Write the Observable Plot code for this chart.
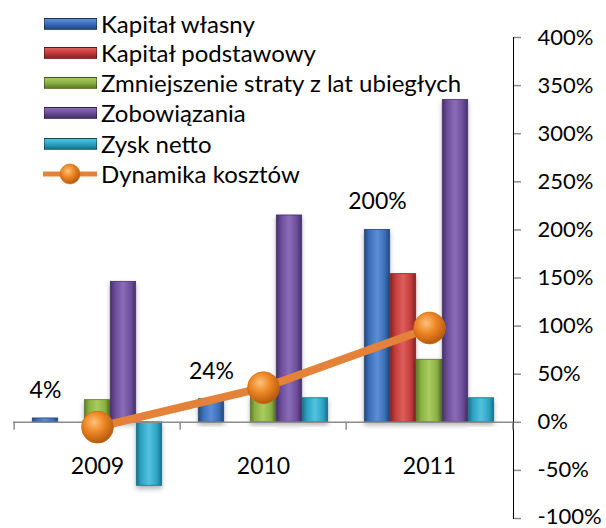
<!DOCTYPE html>
<html>
<head>
<meta charset="utf-8">
<script src="https://cdn.jsdelivr.net/npm/d3@7"></script>
<script src="https://cdn.jsdelivr.net/npm/@observablehq/plot@0.6"></script>
<style>
  html, body { margin: 0; padding: 0; background: #fff; }
  #wrap { position: relative; width: 606px; height: 528px; overflow: hidden; font-family: Lato, "Open Sans", sans-serif; }
  #legend { position: absolute; left: 0; top: 0; font-size: 24px; color: #000; }
  .row { position: absolute; left: 0; height: 30px; white-space: nowrap; }
  .sw { position: absolute; left: 44px; width: 53px; height: 12px; box-sizing: border-box; border: 1px solid rgba(0,0,0,0.35); }
  .lab { position: absolute; left: 101px; top: 0; line-height: 30px; }
</style>
</head>
<body>
<div id="wrap"><div id="chart"></div><div id="legend"></div></div>
<script>
const years = ["2009", "2010", "2011"];
const seriesNames = ["Kapitał własny", "Kapitał podstawowy", "Zmniejszenie straty z lat ubiegłych", "Zobowiązania", "Zysk netto"];
const kapitalWlasny = [4, 24, 200];
const kapitalPodstawowy = [null, null, 154];
const zmniejszenieStraty = [23, 27, 65];
const zobowiazania = [146, 215, 335];
const zyskNetto = [-66, 25, 25];
const lineName = "Dynamika kosztów";
const dynamikaKosztow = [-5, 36, 98];
const yTicks = [-100, -50, 0, 50, 100, 150, 200, 250, 300, 350, 400];

const seriesValues = [kapitalWlasny, kapitalPodstawowy, zmniejszenieStraty, zobowiazania, zyskNetto];
const colors = [
  {id: "g0", base: "#3A6DB5", light: "#5B8FD6", dark: "#23487E"},
  {id: "g1", base: "#C23B3B", light: "#DE5E5C", dark: "#842222"},
  {id: "g2", base: "#8BB043", light: "#A9CC5E", dark: "#5D7B26"},
  {id: "g3", base: "#6A4C98", light: "#8A6CB8", dark: "#45306A"},
  {id: "g4", base: "#2BA3C2", light: "#52C3DF", dark: "#187086"}
];
const lineColor = "#E4823A";

const rows = [];
seriesValues.forEach((vals, i) => vals.forEach((v, j) => {
  if (v !== null) rows.push({series: seriesNames[i], si: i, year: years[j], value: v});
}));
const dyn = years.map((y, j) => ({year: y, value: dynamikaKosztow[j]}));
const kwLabels = years.map((y, j) => ({year: y, value: kapitalWlasny[j]}));

const W = 606, H = 528, mL = 13, mR = 93, mT = 37, mB = 10;
const bandW = (W - mL - mR) / years.length;
const barW = 26;
const pad = (bandW - barW * seriesNames.length) / 2;

function defs() {
  const d = d3.create("svg:defs");
  for (const c of colors) {
    const g = d.append("linearGradient").attr("id", c.id).attr("x1", 0).attr("x2", 1).attr("y1", 0).attr("y2", 0);
    g.append("stop").attr("offset", "0%").attr("stop-color", c.dark);
    g.append("stop").attr("offset", "18%").attr("stop-color", c.base);
    g.append("stop").attr("offset", "50%").attr("stop-color", c.light);
    g.append("stop").attr("offset", "82%").attr("stop-color", c.base);
    g.append("stop").attr("offset", "100%").attr("stop-color", c.dark);
  }
  const r = d.append("radialGradient").attr("id", "ball").attr("cx", "40%").attr("cy", "35%").attr("r", "65%");
  r.append("stop").attr("offset", "0%").attr("stop-color", "#FCC27E");
  r.append("stop").attr("offset", "45%").attr("stop-color", "#F08A28");
  r.append("stop").attr("offset", "100%").attr("stop-color", "#B8590C");
  const f = d.append("filter").attr("id", "shadow").attr("x", "-30%").attr("y", "-10%").attr("width", "160%").attr("height", "130%");
  f.append("feDropShadow").attr("dx", 0).attr("dy", 3).attr("stdDeviation", 2.5).attr("flood-color", "#000").attr("flood-opacity", 0.3);
  return d.node();
}

const barMarks = seriesNames.map((name, i) =>
  Plot.barY(rows.filter(d => d.si === i), {
    x: "year", y: "value",
    fill: `url(#${colors[i].id})`,
    stroke: colors[i].dark, strokeWidth: 0.8,
    insetLeft: pad + barW * i,
    insetRight: bandW - pad - barW * (i + 1)
  })
);

const chart = Plot.plot({
  width: W, height: H,
  marginLeft: mL, marginRight: mR, marginTop: mT, marginBottom: mB,
  style: {fontFamily: "Lato, 'Open Sans', sans-serif", fontSize: "22px", color: "#000", background: "#fff"},
  x: {domain: years, padding: 0, axis: null},
  y: {domain: [-100, 400], ticks: yTicks, tickFormat: d => d + "%", axis: "right", line: true, tickSize: 7, tickPadding: 17, label: null},
  marks: [
    defs,
    ...barMarks,
    Plot.ruleY([0], {stroke: "#8C8C8C", strokeWidth: 1.5}),
    Plot.ruleX(years, {x: d => d, y1: 0, y2: 0, insetBottom: -8, dx: -bandW / 2, stroke: "#8C8C8C", strokeWidth: 1.5}),
    Plot.ruleX(years.slice(-1), {x: d => d, y1: 0, y2: 0, insetBottom: -8, dx: bandW / 2, stroke: "#8C8C8C", strokeWidth: 1.5}),
    Plot.text(years, {x: d => d, y: () => 0, text: d => d, dy: 44, fontSize: 23}),
    Plot.text(kwLabels, {x: "year", y: "value", text: d => d.value + "%", dy: -28, dx: pad + barW / 2 - bandW / 2, fontSize: 23}),
    Plot.line(dyn, {x: "year", y: "value", stroke: lineColor, strokeWidth: 8}),
    Plot.dot(dyn, {x: "year", y: "value", r: 16, fill: "url(#ball)", stroke: "#C7680F", strokeWidth: 0.6})
  ]
});
chart.querySelectorAll("[aria-label='bar'] rect").forEach(r => r.setAttribute("filter", "url(#shadow)"));
chart.querySelectorAll("[aria-label='y-axis tick'] path, [aria-label='y-axis domain'] line, [aria-label='y-axis'] path, [aria-label='y-axis'] line").forEach(p => { p.setAttribute("stroke", "#8C8C8C"); p.setAttribute("stroke-width", "1.5"); });
// keep the lowest tick label inside the picture
chart.querySelectorAll("text").forEach(t => {
  if (t.textContent === "-100%") t.setAttribute("dy", "-0.05em");
});
document.getElementById("chart").appendChild(chart);

// Legend (overlay, top-left)
const legend = d3.select("#legend");
const rowCenters = [24, 53, 83, 113, 144, 174];
seriesNames.forEach((name, i) => {
  const row = legend.append("div").attr("class", "row").style("top", (rowCenters[i] - 15) + "px");
  row.append("div").attr("class", "sw")
    .style("top", "9px")
    .style("background", `linear-gradient(to bottom, ${colors[i].light}, ${colors[i].base} 50%, ${colors[i].dark})`);
  row.append("div").attr("class", "lab").text(name);
});
const lrow = legend.append("div").attr("class", "row").style("top", (rowCenters[5] - 15) + "px");
const ls = lrow.append("svg").attr("width", 60).attr("height", 30).style("position", "absolute").style("left", "40px").style("top", "0px");
ls.append("line").attr("x1", 3).attr("x2", 57).attr("y1", 15).attr("y2", 15).attr("stroke", lineColor).attr("stroke-width", 5);
ls.append("circle").attr("cx", 30).attr("cy", 15).attr("r", 10).attr("fill", "url(#ball)").attr("stroke", "#C7680F").attr("stroke-width", 0.6);
lrow.append("div").attr("class", "lab").text(lineName);
</script>
</body>
</html>
